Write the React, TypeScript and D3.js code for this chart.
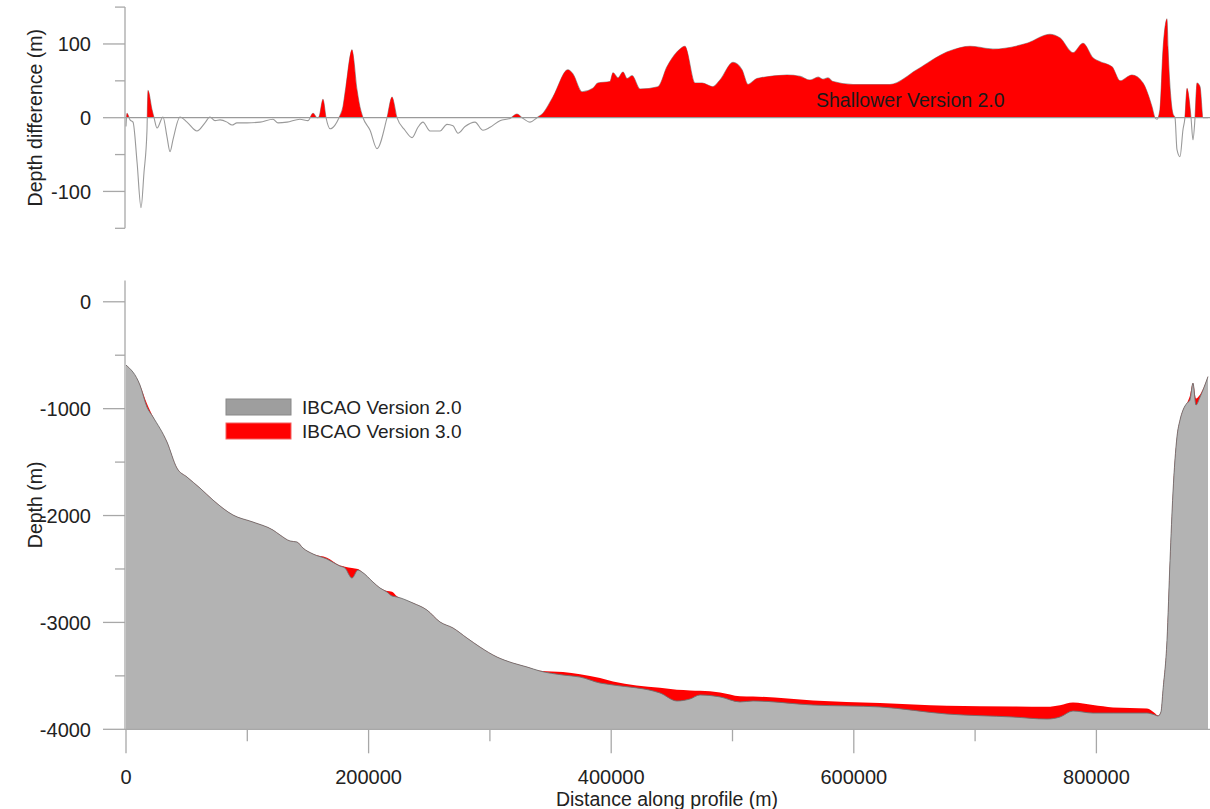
import React, { useEffect, useRef } from 'react';
import * as d3 from 'd3';

// depth difference along the profile (top panel)
const diffDistance = [
  0, 800, 3300, 5800, 9100, 12400, 14800, 17300, 18100, 21400, 23100, 25600, 30500, 33800, 36300, 38700,
  44500, 50300, 58500, 65100, 69200, 73400, 77500, 83300, 87400, 91500, 99800, 110500, 121200, 125300,
  132700, 143400, 150000, 154200, 157500, 159100, 162400, 164900, 168200, 172300, 175600, 178900, 181300,
  186300, 190400, 192800, 195400, 201200, 206900, 215200, 219300, 223400, 230000, 235800, 240700, 244800,
  250600, 258900, 264600, 269600, 273700, 279500, 287700, 294300, 300100, 308300, 316600, 322300, 326500,
  333100, 338800, 343800, 352000, 364400, 368500, 375900, 385000, 389100, 399000, 401500, 405600, 409700,
  413000, 417200, 423700, 438600, 446000, 454200, 460800, 469100, 474900, 483900, 489700, 500400, 507800,
  512800, 520200, 544900, 555700, 563900, 570500, 574600, 578700, 582900, 599400, 629800, 652100, 676800,
  695800, 714700, 742800, 761700, 770000, 780700, 789000, 797200, 803000, 812900, 819500, 829300, 838400,
  845800, 848300, 850000, 852400, 854900, 858200, 859000, 861500, 863100, 864800, 866400, 868900, 871400,
  873000, 874700, 878000, 879600, 881300, 882900, 885400, 887900, 892000,
];
const diffValue = [
  -12, 6, -3, -6, -60, -122, -75, -17, 37, 11, 0, -14, 1, -26, -46, -30,
  1, -6, -18, -7, 1, -4, -3, -6, -10, -7, -7, -6, -2, -7,
  -6, -2, -4, 6, 0, 1, 25, 0, -15, -10, 0, 15, 42,
  92, 38, 15, 0, -17, -42, 0, 28, 0, -17, -27, -13, -6,
  -18, -18, -9, -11, -21, -12, -6, -17, -13, -4, -1, 5, 0,
  -6, 0, 6, 28, 65, 59, 35, 40, 47, 49, 61, 54, 62,
  53, 57, 39, 42, 69, 89, 97, 47, 47, 42, 51, 75, 65,
  45, 53, 58, 56, 51, 55, 52, 54, 49, 45, 45, 65, 89,
  97, 93, 101, 113, 108, 88, 101, 81, 76, 69, 50, 58, 47,
  15, 0, -2, 11, 92, 134, 96, 24, 5, 0, -43, -53, -16,
  0, 40, 0, -30, 0, 47, 42, 0, 0,
];

// depth profiles (bottom panel)
const profileDistance = [
  0, 11500, 17300, 22300, 33800, 42000, 50300, 61000, 71700, 88200, 104700, 121200, 127000, 135200,
  141000, 145900, 154200, 165700, 176400, 180500, 186300, 191200, 194600, 203600, 209400, 215200,
  219300, 223400, 236600, 248100, 258900, 269600, 281100, 291800, 305900, 319000, 330600, 341300,
  360300, 374300, 390800, 401500, 440200, 454200, 465000, 473200, 489700, 506200, 516900, 566400,
  621600, 676800, 731200, 759300, 770000, 780700, 797200, 813700, 841700, 848300, 850800, 853200,
  854900, 858200, 860700, 863100, 866400, 868900, 871400, 874700, 877100, 879600, 882100, 885400, 892000,
];
const depthV2 = [
  -592, -779, -985, -1078, -1312, -1556, -1640, -1743, -1855, -1995, -2061, -2136, -2182, -2238,
  -2248, -2304, -2360, -2407, -2473, -2491, -2585, -2510, -2529, -2622, -2678, -2716,
  -2753, -2762, -2819, -2884, -2996, -3052, -3146, -3230, -3324, -3380, -3417, -3455,
  -3492, -3511, -3567, -3585, -3660, -3735, -3716, -3679, -3697, -3744, -3735, -3773,
  -3791, -3857, -3885, -3904, -3885, -3829, -3848, -3848, -3848, -3866, -3876, -3838,
  -3633, -3166, -2418, -1790, -1266, -1107, -1013, -948, -920, -761, -966, -892, -700,
];
const depthV3 = [
  -592, -779, -955, -1078, -1312, -1556, -1640, -1743, -1855, -1995, -2061, -2136, -2182, -2238,
  -2248, -2304, -2360, -2395, -2468, -2478, -2490, -2500, -2529, -2622, -2678, -2705,
  -2712, -2755, -2819, -2884, -2996, -3052, -3146, -3230, -3324, -3380, -3417, -3452,
  -3464, -3485, -3520, -3552, -3612, -3630, -3636, -3640, -3655, -3690, -3693, -3730,
  -3755, -3780, -3787, -3790, -3775, -3750, -3772, -3795, -3805, -3850, -3872, -3838,
  -3633, -3166, -2418, -1790, -1266, -1107, -1013, -948, -880, -761, -905, -870, -700,
];

const diffTicks = [100, 0, -100];
const diffMinorTicks = [150, 50, -50, -150];
const depthTicks = [0, -1000, -2000, -3000, -4000];
const depthMinorTicks = [-500, -1500, -2500, -3500];
const distanceTicks = [0, 200000, 400000, 600000, 800000];
const distanceMinorTicks = [100000, 300000, 500000, 700000];

const FONT = 'Liberation Sans, Arial, Helvetica, sans-serif';
const AXIS = '#a8a8a8';

const App = () => {
  const svgRef = useRef<SVGSVGElement | null>(null);

  useEffect(() => {
    const svg = d3.select(svgRef.current);
    svg.selectAll('*').remove();

    const x = d3.scaleLinear().domain([0, 892000]).range([126, 1208]);
    const yTop = d3.scaleLinear().domain([-150, 150]).range([228.3, 7.1]);
    const yBot = d3.scaleLinear().domain([-4000, 200]).range([729.3, 280.4]);
    const axisX = 125;
    const curve = d3.curveMonotoneX;

    // ---------- top panel ----------
    const diff = diffDistance.map((d, i) => ({ d, v: diffValue[i] }));
    svg.append('defs').append('clipPath').attr('id', 'above-zero')
      .append('rect')
      .attr('x', 0).attr('y', 0)
      .attr('width', 1210).attr('height', yTop(0));

    const diffLine = d3.line<{ d: number, v: number }>()
      .x(p => x(p.d))
      .y(p => yTop(p.v))
      .curve(curve);
    const diffArea = d3.area<{ d: number, v: number }>()
      .x(p => x(p.d))
      .y0(yTop(0))
      .y1(p => yTop(p.v))
      .curve(curve);

    svg.append('path')
      .datum(diff)
      .attr('fill', 'none')
      .attr('stroke', '#9a9a9a')
      .attr('stroke-width', 1.1)
      .attr('d', diffLine);

    svg.append('path')
      .datum(diff)
      .attr('fill', '#ff0000')
      .attr('clip-path', 'url(#above-zero)')
      .attr('d', diffArea);

    svg.append('line')
      .attr('x1', axisX).attr('x2', 1210)
      .attr('y1', yTop(0)).attr('y2', yTop(0))
      .attr('stroke', '#9a9a9a').attr('stroke-width', 1.2);

    // y axis top
    svg.append('line')
      .attr('x1', axisX).attr('x2', axisX)
      .attr('y1', yTop(-150)).attr('y2', yTop(150))
      .attr('stroke', AXIS).attr('stroke-width', 1.3);
    diffTicks.forEach(t => {
      svg.append('line')
        .attr('x1', 103).attr('x2', axisX)
        .attr('y1', yTop(t)).attr('y2', yTop(t))
        .attr('stroke', AXIS).attr('stroke-width', 1.3);
      svg.append('text')
        .attr('x', 91).attr('y', yTop(t))
        .attr('dy', '0.36em')
        .attr('text-anchor', 'end')
        .attr('font-family', FONT).attr('font-size', 20)
        .attr('fill', '#222')
        .text(t);
    });
    diffMinorTicks.forEach(t => {
      svg.append('line')
        .attr('x1', 115).attr('x2', axisX)
        .attr('y1', yTop(t)).attr('y2', yTop(t))
        .attr('stroke', AXIS).attr('stroke-width', 1.3);
    });
    svg.append('text')
      .attr('transform', `translate(42,${yTop(0)}) rotate(-90)`)
      .attr('text-anchor', 'middle')
      .attr('font-family', FONT).attr('font-size', 19.5)
      .attr('fill', '#222')
      .text('Depth difference (m)');

    svg.append('text')
      .attr('x', 816).attr('y', 107)
      .attr('font-family', FONT).attr('font-size', 19.5)
      .attr('fill', '#1a1a1a')
      .text('Shallower Version 2.0');

    // ---------- bottom panel ----------
    const profile = profileDistance.map((d, i) => ({ d, v2: depthV2[i], v3: depthV3[i] }));
    const areaV3 = d3.area<{ d: number, v2: number, v3: number }>()
      .x(p => x(p.d))
      .y0(yBot(-4000))
      .y1(p => yBot(p.v3))
      .curve(curve);
    const areaV2 = d3.area<{ d: number, v2: number, v3: number }>()
      .x(p => x(p.d))
      .y0(yBot(-4000))
      .y1(p => yBot(p.v2))
      .curve(curve);
    const lineV2 = d3.line<{ d: number, v2: number, v3: number }>()
      .x(p => x(p.d))
      .y(p => yBot(p.v2))
      .curve(curve);

    svg.append('path').datum(profile)
      .attr('fill', '#ff0000')
      .attr('d', areaV3);
    svg.append('path').datum(profile)
      .attr('fill', '#b3b3b3')
      .attr('d', areaV2);
    svg.append('path').datum(profile)
      .attr('fill', 'none')
      .attr('stroke', '#6e6e6e')
      .attr('stroke-width', 0.9)
      .attr('d', lineV2);

    // y axis bottom
    svg.append('line')
      .attr('x1', axisX).attr('x2', axisX)
      .attr('y1', yBot(-4000)).attr('y2', yBot(200))
      .attr('stroke', AXIS).attr('stroke-width', 1.3);
    depthTicks.forEach(t => {
      svg.append('line')
        .attr('x1', 103).attr('x2', axisX)
        .attr('y1', yBot(t)).attr('y2', yBot(t))
        .attr('stroke', AXIS).attr('stroke-width', 1.3);
      svg.append('text')
        .attr('x', 91).attr('y', yBot(t))
        .attr('dy', '0.36em')
        .attr('text-anchor', 'end')
        .attr('font-family', FONT).attr('font-size', 20)
        .attr('fill', '#222')
        .text(t);
    });
    depthMinorTicks.forEach(t => {
      svg.append('line')
        .attr('x1', 115).attr('x2', axisX)
        .attr('y1', yBot(t)).attr('y2', yBot(t))
        .attr('stroke', AXIS).attr('stroke-width', 1.3);
    });
    svg.append('text')
      .attr('transform', `translate(42,${(yBot(-4000) + yBot(200)) / 2}) rotate(-90)`)
      .attr('text-anchor', 'middle')
      .attr('font-family', FONT).attr('font-size', 19.5)
      .attr('fill', '#222')
      .text('Depth (m)');

    // x axis
    svg.append('line')
      .attr('x1', axisX).attr('x2', 1210)
      .attr('y1', yBot(-4000)).attr('y2', yBot(-4000))
      .attr('stroke', AXIS).attr('stroke-width', 1.3);
    distanceTicks.forEach(t => {
      svg.append('line')
        .attr('x1', x(t)).attr('x2', x(t))
        .attr('y1', yBot(-4000)).attr('y2', yBot(-4000) + 24)
        .attr('stroke', AXIS).attr('stroke-width', 1.3);
      svg.append('text')
        .attr('x', x(t)).attr('y', 784)
        .attr('text-anchor', 'middle')
        .attr('font-family', FONT).attr('font-size', 20)
        .attr('fill', '#222')
        .text(t);
    });
    distanceMinorTicks.forEach(t => {
      svg.append('line')
        .attr('x1', x(t)).attr('x2', x(t))
        .attr('y1', yBot(-4000)).attr('y2', yBot(-4000) + 12)
        .attr('stroke', AXIS).attr('stroke-width', 1.3);
    });
    svg.append('text')
      .attr('x', 667).attr('y', 806)
      .attr('text-anchor', 'middle')
      .attr('font-family', FONT).attr('font-size', 19.5)
      .attr('fill', '#222')
      .text('Distance along profile (m)');

    // legend
    const legend = [
      { label: 'IBCAO Version 2.0', fill: '#9e9e9e', stroke: '#888' },
      { label: 'IBCAO Version 3.0', fill: '#ff0000', stroke: '#f26060' },
    ];
    legend.forEach((item, i) => {
      svg.append('rect')
        .attr('x', 226).attr('y', 399 + i * 24)
        .attr('width', 65).attr('height', 16)
        .attr('fill', item.fill)
        .attr('stroke', item.stroke)
        .attr('stroke-width', 1);
      svg.append('text')
        .attr('x', 302).attr('y', 407 + i * 24)
        .attr('dy', '0.36em')
        .attr('font-family', FONT).attr('font-size', 19)
        .attr('fill', '#222')
        .text(item.label);
    });
  }, []);

  return (
    <svg ref={svgRef} width={1210} height={809}
      style={{ position: 'absolute', left: 0, top: 0, background: '#fff' }} />
  );
};

export default App;
